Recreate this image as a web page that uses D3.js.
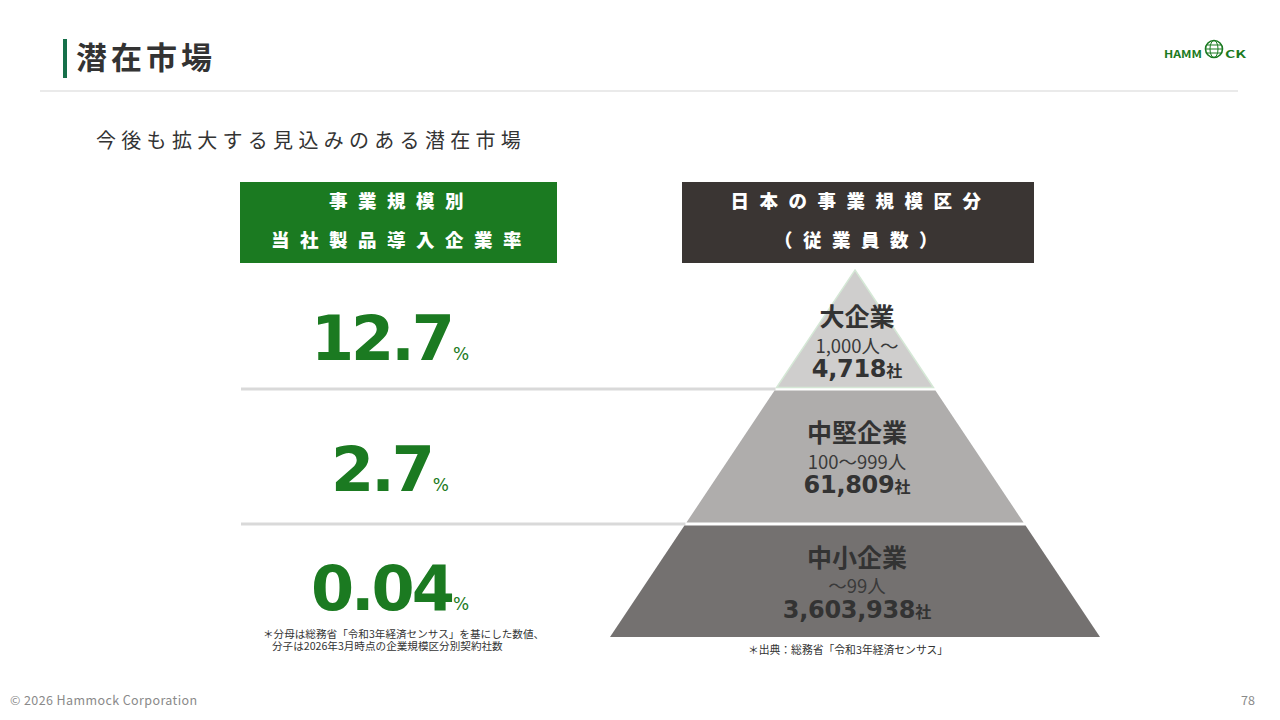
<!DOCTYPE html>
<html>
<head>
<meta charset="utf-8">
<script src="https://cdn.jsdelivr.net/npm/d3@7"></script>
<style>
  body { margin: 0; background: #fff; }
  svg text { font-family: "Noto Sans CJK JP", "Noto Sans", sans-serif; }
</style>
</head>
<body>
<script>
// data
const tiers = ["大企業", "中堅企業", "中小企業"];
const employeeRanges = ["1,000人～", "100～999人", "～99人"];
const companyCounts = [4718, 61809, 3603938];
const adoptionRates = ["12.7", "2.7", "0.04"];
const tierColors = ["#cfcecd", "#afadac", "#747170"];

const width = 1280, height = 720;
const svg = d3.select("body").append("svg")
    .attr("width", width)
    .attr("height", height);

const green = "#1b7a21";
const dark = "#333333";

// header
svg.append("rect").attr("x", 63).attr("y", 39).attr("width", 4).attr("height", 39).attr("fill", "#16704a");
svg.append("text").attr("x", 76).attr("y", 69)
    .attr("font-size", 31).attr("font-weight", 700).attr("fill", dark)
    .attr("letter-spacing", 4)
    .text("潜在市場");
svg.append("line").attr("x1", 40).attr("x2", 1238).attr("y1", 91).attr("y2", 91)
    .attr("stroke", "#e3e3e3").attr("stroke-width", 1.5);

// logo
const logo = svg.append("g");
logo.append("text").attr("x", 1164).attr("y", 58).attr("font-family", "DejaVu Sans")
    .attr("font-size", 10.5).attr("font-weight", 700).attr("fill", green)
    .attr("textLength", 38).attr("lengthAdjust", "spacingAndGlyphs").text("HAMM");
logo.append("circle").attr("cx", 1214).attr("cy", 49).attr("r", 8.5)
    .attr("fill", "none").attr("stroke", green).attr("stroke-width", 1.6);
logo.append("ellipse").attr("cx", 1214).attr("cy", 49).attr("rx", 4).attr("ry", 8.5)
    .attr("fill", "none").attr("stroke", green).attr("stroke-width", 1);
[-4, 0, 4].forEach(dy => logo.append("line")
    .attr("x1", 1206).attr("x2", 1222).attr("y1", 49 + dy).attr("y2", 49 + dy)
    .attr("stroke", green).attr("stroke-width", 1));
logo.append("text").attr("x", 1225).attr("y", 58).attr("font-family", "DejaVu Sans")
    .attr("font-size", 10.5).attr("font-weight", 700).attr("fill", green)
    .attr("textLength", 21).attr("lengthAdjust", "spacingAndGlyphs").text("CK");

// subtitle
svg.append("text").attr("x", 96).attr("y", 148)
    .attr("font-size", 20).attr("fill", dark).attr("letter-spacing", 5.3)
    .text("今後も拡大する見込みのある潜在市場");

// column header boxes
const boxes = [
  {x: 240, w: 317, fill: "#1b7a21", lines: ["事業規模別", "当社製品導入企業率"]},
  {x: 682, w: 352, fill: "#3a3533", lines: ["日本の事業規模区分", "（従業員数）"]}
];
boxes.forEach(b => {
  svg.append("rect").attr("x", b.x).attr("y", 182).attr("width", b.w).attr("height", 81).attr("fill", b.fill);
  const t = svg.append("text").attr("text-anchor", "middle")
      .attr("font-size", 18.5).attr("font-weight", 900).attr("fill", "#fff")
      .attr("letter-spacing", 10.5);
  b.lines.forEach((line, i) => t.append("tspan")
      .attr("x", b.x + b.w / 2 + 3).attr("y", 208 + i * 39)
      .text(line));
});

// pyramid geometry
const apexY = 270, baseY = 637, cx = 855, halfBase = 245;
const tierEdges = [apexY, 389, 524, baseY];
const halfW = d3.scaleLinear().domain([apexY, baseY]).range([0, halfBase]);

const tierData = tiers.map((name, i) => ({
  name, range: employeeRanges[i], count: companyCounts[i], rate: adoptionRates[i],
  y0: tierEdges[i], y1: tierEdges[i + 1], color: tierColors[i]
}));

// separator lines on the left
svg.selectAll("line.sep").data(tierData.slice(0, 2)).enter().append("line")
    .attr("class", "sep")
    .attr("x1", 241).attr("x2", d => cx - halfW(d.y1))
    .attr("y1", d => d.y1).attr("y2", d => d.y1)
    .attr("stroke", "#d9d9d9").attr("stroke-width", 3);

// pyramid tiers
const gap = 1.5;
svg.selectAll("path.tier").data(tierData).enter().append("path")
    .attr("class", "tier")
    .attr("d", (d, i) => {
      const t = i === 0 ? d.y0 : d.y0 + gap;
      const b = i === 2 ? d.y1 : d.y1 - gap;
      return d3.line()([
        [cx - halfW(t), t], [cx + halfW(t), t],
        [cx + halfW(b), b], [cx - halfW(b), b]
      ]) + "Z";
    })
    .attr("fill", d => d.color)
    .attr("stroke", (d, i) => i === 0 ? "#d5e8d6" : "none")
    .attr("stroke-width", 1.5);

// tier labels (one text block per tier)
const fmt = d3.format(",");
const labelOffsets = [[56, 83, 107], [53, 80, 104], [43, 69, 94]];
tierData.forEach((d, i) => {
  const o = labelOffsets[i];
  const lx = cx + 2;
  const t = svg.append("text").attr("text-anchor", "middle").attr("fill", "#333");
  t.append("tspan").attr("x", lx).attr("y", d.y0 + o[0])
      .attr("font-size", 25).attr("font-weight", 700)
      .text(d.name);
  t.append("tspan").attr("x", lx).attr("y", d.y0 + o[1])
      .attr("font-size", 18.5).attr("font-weight", 400).attr("fill", "#3a3a3a")
      .text(d.range);
  t.append("tspan").attr("x", lx).attr("y", d.y0 + o[2])
      .attr("font-family", "DejaVu Sans").attr("font-size", 24).attr("font-weight", 700)
      .attr("letter-spacing", -0.3).text(fmt(d.count));
  t.append("tspan").attr("font-size", 16).attr("font-weight", 700).text("社");
});

// adoption rates
const rateBase = [360, 491, 610];
tierData.forEach((d, i) => {
  const t = svg.append("text").attr("x", 390).attr("y", rateBase[i]).attr("text-anchor", "middle")
      .attr("fill", green);
  t.append("tspan").attr("font-family", "DejaVu Sans").attr("font-size", 62).attr("font-weight", 700)
      .attr("letter-spacing", -3).text(d.rate);
  t.append("tspan").attr("font-family", "DejaVu Sans").attr("font-size", 17).attr("dx", 1).text("%");
});

// footnotes
const note = svg.append("text").attr("font-size", 10.6).attr("fill", "#333");
note.append("tspan").attr("x", 263).attr("y", 638)
    .text("＊分母は総務省「令和3年経済センサス」を基にした数値、");
note.append("tspan").attr("x", 272).attr("y", 650)
    .text("分子は2026年3月時点の企業規模区分別契約社数");
svg.append("text").attr("x", 848).attr("y", 654).attr("text-anchor", "middle")
    .attr("font-size", 10.8).attr("fill", "#333")
    .text("＊出典：総務省「令和3年経済センサス」");

// footer
svg.append("text").attr("x", 10).attr("y", 705).attr("font-family", "Open Sans")
    .attr("font-size", 12.5).attr("letter-spacing", 0.4).attr("fill", "#8a8a8a").text("© 2026 Hammock Corporation");
svg.append("text").attr("x", 1255).attr("y", 705).attr("text-anchor", "end").attr("font-family", "Open Sans")
    .attr("font-size", 12.5).attr("fill", "#8a8a8a").text("78");
</script>
</body>
</html>
